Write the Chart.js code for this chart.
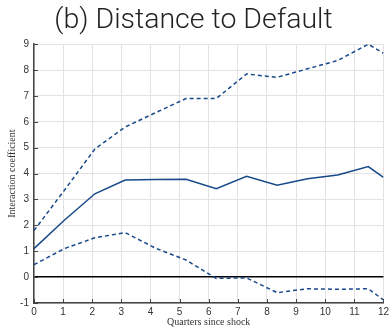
<!DOCTYPE html>
<html>
<head>
<meta charset="utf-8">
<script src="https://cdn.jsdelivr.net/npm/chart.js@4.4.0/dist/chart.umd.min.js"></script>
<style>
  html, body { margin: 0; padding: 0; background: #fff; }
  #wrap { width: 392px; height: 328px; }
</style>
</head>
<body>
<div id="wrap"><canvas id="chart"></canvas></div>
<script>
// horizon positions (quarters since shock)
const quarters = [0, 1.04, 2.09, 3.13, 4.17, 5.22, 6.26, 7.30, 8.35, 9.39, 10.43, 11.48, 12];
const estimate = [1.1, 2.2, 3.22, 3.75, 3.77, 3.78, 3.42, 3.9, 3.55, 3.8, 3.95, 4.27, 3.85];
const upperBand = [1.8, 3.35, 4.95, 5.8, 6.35, 6.9, 6.9, 7.85, 7.72, 8.05, 8.37, 9.0, 8.65];
const lowerBand = [0.48, 1.1, 1.52, 1.72, 1.12, 0.66, -0.05, -0.03, -0.6, -0.45, -0.47, -0.45, -0.88];

const LINE_BLUE = "#17498a";

const toPoints = (ys) => ys.map((y, i) => ({ x: quarters[i], y: y }));

// matlab style ticks pointing into the plot area
const innerTicks = {
  id: 'innerTicks',
  afterDraw(chart) {
    const { ctx, chartArea, scales } = chart;
    ctx.save();
    ctx.strokeStyle = '#444';
    ctx.lineWidth = 1;
    ctx.beginPath();
    scales.y.ticks.forEach((t) => {
      const py = Math.round(scales.y.getPixelForValue(t.value)) + 0.5;
      ctx.moveTo(chartArea.left, py);
      ctx.lineTo(chartArea.left + 4, py);
    });
    scales.x.ticks.forEach((t) => {
      const px = Math.round(scales.x.getPixelForValue(t.value)) + 0.5;
      ctx.moveTo(px, chartArea.bottom);
      ctx.lineTo(px, chartArea.bottom - 4);
    });
    ctx.stroke();
    ctx.restore();
  }
};

new Chart(document.getElementById('chart'), {
  type: 'line',
  data: {
    datasets: [{
      data: toPoints(upperBand),
      borderColor: LINE_BLUE,
      borderWidth: 1.5,
      borderDash: [4, 3],
      pointRadius: 0,
      fill: false
    }, {
      data: toPoints(estimate),
      borderColor: LINE_BLUE,
      borderWidth: 1.5,
      pointRadius: 0,
      fill: false
    }, {
      data: toPoints(lowerBand),
      borderColor: LINE_BLUE,
      borderWidth: 1.5,
      borderDash: [4, 3],
      pointRadius: 0,
      fill: false
    }]
  },
  options: {
    responsive: true,
    maintainAspectRatio: false,
    animation: false,
    events: [],
    layout: { padding: { left: 0, right: 5, top: 0, bottom: 0 } },
    plugins: {
      legend: { display: false },
      tooltip: { enabled: false },
      title: {
        display: true,
        text: '(b) Distance to Default',
        color: '#222',
        font: { family: 'Roboto', size: 28.5, weight: 300 },
        padding: { top: 4, bottom: 6 }
      }
    },
    scales: {
      x: {
        type: 'linear',
        min: 0,
        max: 12,
        ticks: {
          stepSize: 1,
          color: '#333',
          padding: 3,
          maxRotation: 0,
          font: { family: 'Liberation Sans', size: 10 }
        },
        grid: {
          color: '#e2e2e2',
          lineWidth: 1,
          drawTicks: false
        },
        border: { display: true, color: '#444', width: 1.5 },
        title: {
          display: true,
          text: 'Quarters since shock',
          color: '#333',
          font: { family: 'Liberation Serif', size: 10 },
          padding: { top: 1, bottom: 0 }
        },
        afterFit: (scale) => { scale.height = 25; }
      },
      y: {
        min: -1,
        max: 9,
        ticks: {
          stepSize: 1,
          color: '#333',
          padding: 5,
          font: { family: 'Liberation Sans', size: 10 }
        },
        grid: {
          color: (c) => c.tick && c.tick.value === 0 ? '#000' : '#e2e2e2',
          lineWidth: (c) => c.tick && c.tick.value === 0 ? 1.5 : 1,
          drawTicks: false
        },
        border: { display: true, color: '#444', width: 1.5 },
        title: {
          display: true,
          text: 'Interaction coefficient',
          color: '#333',
          font: { family: 'Liberation Serif', size: 10 },
          padding: { top: 6, bottom: 0 }
        },
        afterFit: (scale) => { scale.width = 34; }
      }
    }
  },
  plugins: [innerTicks]
});
</script>
</body>
</html>
